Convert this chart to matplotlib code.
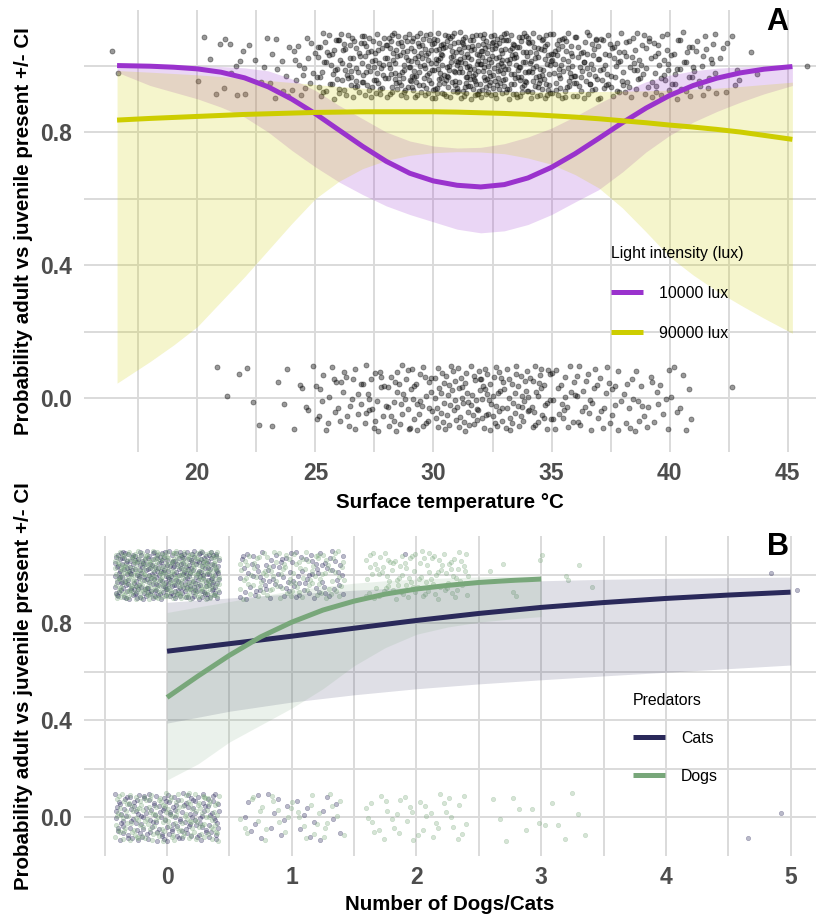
import numpy as np
import matplotlib
matplotlib.use('Agg')
import matplotlib.pyplot as plt
from matplotlib.lines import Line2D

plt.rcParams['font.family'] = ['Liberation Sans', 'DejaVu Sans']

# ---- panel A: surface temperature ----
# observations per 1 degC bin (bin start), adult (1) and juvenile (0)
temp_bins = list(range(16, 46))
adult_counts = [2, 0, 0, 0, 5, 8, 6, 10, 16, 30, 38, 42, 50, 55, 62,
                68, 66, 60, 55, 45, 40, 32, 28, 26, 22, 18, 8, 2, 0, 1]
juv_counts = [0, 0, 0, 0, 1, 2, 3, 4, 6, 14, 16, 20, 22, 24, 28,
              30, 30, 28, 26, 20, 18, 15, 14, 12, 8, 0, 1, 0, 0, 0]

# fitted probability +/- CI
curve_t = [16.6, 18, 19, 20, 21, 22, 23, 24, 25, 26, 27, 28, 29, 30, 31,
           32, 33, 34, 35, 36, 37, 38, 39, 40, 41, 42, 43, 44, 45.2]
lux10k_fit = [1.0, 0.998, 0.995, 0.99, 0.98, 0.963, 0.936, 0.899, 0.855, 0.806,
              0.757, 0.712, 0.676, 0.653, 0.64, 0.635, 0.642, 0.662, 0.694,
              0.735, 0.781, 0.828, 0.872, 0.91, 0.94, 0.962, 0.978, 0.989, 0.997]
lux10k_hi = [1.0, 1.0, 1.0, 0.999, 0.997, 0.993, 0.984, 0.96, 0.925, 0.88,
             0.84, 0.80, 0.773, 0.758, 0.752, 0.754, 0.765, 0.785, 0.812,
             0.847, 0.886, 0.922, 0.951, 0.971, 0.984, 0.992, 0.996, 0.998, 0.999]
lux10k_lo = [0.98, 0.94, 0.92, 0.90, 0.875, 0.845, 0.80, 0.745, 0.695, 0.65,
             0.612, 0.578, 0.552, 0.53, 0.508, 0.497, 0.503, 0.522, 0.552,
             0.59, 0.627, 0.68, 0.74, 0.79, 0.83, 0.862, 0.89, 0.915, 0.94]
lux90k_fit = [0.836, 0.841, 0.844, 0.847, 0.85, 0.853, 0.855, 0.857, 0.859, 0.86,
              0.861, 0.861, 0.861, 0.861, 0.86, 0.858, 0.856, 0.853, 0.849,
              0.845, 0.84, 0.834, 0.828, 0.821, 0.815, 0.808, 0.80, 0.79, 0.778]
lux90k_hi = [0.985, 0.98, 0.976, 0.972, 0.967, 0.961, 0.955, 0.949, 0.943, 0.937,
             0.932, 0.928, 0.925, 0.923, 0.922, 0.921, 0.921, 0.921, 0.921,
             0.922, 0.922, 0.923, 0.924, 0.926, 0.929, 0.932, 0.937, 0.943, 0.95]
lux90k_lo = [0.045, 0.11, 0.16, 0.215, 0.29, 0.365, 0.445, 0.525, 0.60, 0.652,
             0.69, 0.715, 0.73, 0.738, 0.741, 0.74, 0.735, 0.722, 0.703,
             0.672, 0.632, 0.572, 0.50, 0.425, 0.37, 0.322, 0.28, 0.24, 0.195]

# ---- panel B: number of predators ----
pred_n = [0, 1, 2, 3, 4, 5]
cats_adult = [300, 90, 1, 0, 0, 2]
cats_juv = [150, 25, 0, 0, 0, 3]
dogs_adult = [300, 100, 100, 10, 0, 0]
dogs_juv = [150, 35, 40, 15, 0, 0]

cats_x = [0, 0.5, 1, 1.5, 2, 2.5, 3, 3.5, 4, 4.5, 5]
cats_fit = [0.685, 0.716, 0.747, 0.78, 0.812, 0.841, 0.866, 0.886, 0.903, 0.917, 0.929]
cats_hi = [0.887, 0.905, 0.922, 0.937, 0.95, 0.964, 0.976, 0.982, 0.986, 0.989, 0.991]
cats_lo = [0.388, 0.437, 0.475, 0.505, 0.53, 0.55, 0.567, 0.583, 0.598, 0.613, 0.628]

dogs_x = [0, 0.25, 0.5, 0.75, 1, 1.25, 1.5, 1.75, 2, 2.25, 2.5, 2.75, 3]
dogs_fit = [0.494, 0.583, 0.668, 0.744, 0.805, 0.855, 0.892, 0.921, 0.942,
            0.957, 0.969, 0.977, 0.983]
dogs_hi = [0.845, 0.868, 0.89, 0.913, 0.935, 0.952, 0.966, 0.976, 0.983,
           0.988, 0.992, 0.995, 0.997]
dogs_lo = [0.153, 0.22, 0.31, 0.38, 0.45, 0.53, 0.625, 0.70, 0.755,
           0.785, 0.805, 0.818, 0.828]

PURPLE = '#9a32cd'
YELLOW = '#cdcd00'
NAVY = '#2a295a'
GREEN = '#78a77a'
TICK_GREY = '#4d4d4d'
GRID = '#dadada'


def radical_inverse(k, base):
    out = np.zeros(len(k))
    f = 1.0 / base
    k = k.copy()
    while k.any():
        out += f * (k % base)
        k //= base
        f /= base
    return out


def jitter_xy(n, start):
    # evenly spread jitter in the unit square (Halton 2,3), stands in for geom_jitter
    k = np.arange(start, start + n)
    return radical_inverse(k, 2), radical_inverse(k, 3)


def style_axes(ax, major, minor):
    for s in ax.spines.values():
        s.set_visible(False)
    ax.set_xticks(major)
    ax.set_xticks(minor, minor=True)
    ax.set_yticks([0.0, 0.4, 0.8])
    ax.set_yticks([0.2, 0.6, 1.0], minor=True)
    ax.grid(True, which='both', color=GRID, lw=1.4)
    ax.set_axisbelow(True)
    ax.tick_params(which='both', length=0)
    ax.tick_params(axis='x', pad=7.5)
    ax.tick_params(axis='y', pad=8.5)
    for lab in ax.get_xticklabels() + ax.get_yticklabels():
        lab.set_fontsize(16.5)
        lab.set_fontweight('bold')
        lab.set_color(TICK_GREY)


fig = plt.figure(figsize=(8.16, 9.15), dpi=100)

# ----- A -----
axA = fig.add_axes([84 / 816, 1 - 452 / 915, 732 / 816, 442 / 915])
xs, ys = [], []
k = 37
for t, n_top, n_bot in zip(temp_bins, adult_counts, juv_counts):
    for outcome, n in ((1, n_top), (0, n_bot)):
        u, v = jitter_xy(n, k)
        k += n + 7
        xs.append(t + u)
        ys.append(outcome + (v - 0.5) * 0.2)
axA.scatter(np.concatenate(xs), np.concatenate(ys), s=13, color='black',
            alpha=0.4, linewidths=0.6, zorder=2)

axA.fill_between(curve_t, lux10k_lo, lux10k_hi, color=PURPLE, alpha=0.2, lw=0, zorder=3)
axA.fill_between(curve_t, lux90k_lo, lux90k_hi, color=YELLOW, alpha=0.2, lw=0, zorder=3)
axA.plot(curve_t, lux10k_fit, color=PURPLE, lw=3.6, zorder=4, solid_capstyle='butt')
axA.plot(curve_t, lux90k_fit, color=YELLOW, lw=3.6, zorder=4, solid_capstyle='butt')

axA.set_xlim(15.2, 46.2)
axA.set_ylim(-0.162, 1.167)
style_axes(axA, [20, 25, 30, 35, 40, 45], [17.5, 22.5, 27.5, 32.5, 37.5, 42.5])
axA.set_xlabel('Surface temperature °C', fontsize=14.8, fontweight='bold')
axA.set_ylabel('Probability adult vs juvenile present +/- CI', fontsize=14.8,
               fontweight='bold')
axA.xaxis.set_label_coords(0.5, -0.093)
axA.yaxis.set_label_coords(-0.07, 0.5)
axA.text(0.947, 0.973, 'A', transform=axA.transAxes, fontsize=22,
         fontweight='bold', ha='center', va='center')

handlesA = [Line2D([], [], color=PURPLE, lw=3.6, solid_capstyle='butt'),
            Line2D([], [], color=YELLOW, lw=3.6, solid_capstyle='butt')]
axA.legend(handlesA, ['10000 lux', '90000 lux'], title='Light intensity (lux)',
           loc='upper left', bbox_to_anchor=(0.709, 0.484), frameon=False,
           fontsize=11.4, title_fontsize=11.4, borderpad=0, handlelength=2.0,
           handletextpad=1.05, labelspacing=1.58, alignment='left')

# ----- B -----
axB = fig.add_axes([84 / 816, 1 - 856 / 915, 732 / 816, 320 / 915])
k = 101
for counts_top, counts_bot, col, a in ((cats_adult, cats_juv, NAVY, 0.32),
                                       (dogs_adult, dogs_juv, GREEN, 0.3)):
    bx, by = [], []
    for n_pred, n_top, n_bot in zip(pred_n, counts_top, counts_bot):
        for outcome, n in ((1, n_top), (0, n_bot)):
            u, v = jitter_xy(n, k)
            k += n + 11
            bx.append(n_pred + (u - 0.5) * 0.84)
            by.append(outcome + (v - 0.5) * 0.2)
    axB.scatter(np.concatenate(bx), np.concatenate(by), s=10, color=col,
                alpha=a, linewidths=0.5, zorder=2)

axB.fill_between(cats_x, cats_lo, cats_hi, color=NAVY, alpha=0.15, lw=0, zorder=3)
axB.fill_between(dogs_x, dogs_lo, dogs_hi, color=GREEN, alpha=0.15, lw=0, zorder=3)
axB.plot(cats_x, cats_fit, color=NAVY, lw=3.6, zorder=4, solid_capstyle='butt')
axB.plot(dogs_x, dogs_fit, color=GREEN, lw=3.6, zorder=4, solid_capstyle='butt')

axB.set_xlim(-0.666, 5.204)
axB.set_ylim(-0.161, 1.161)
style_axes(axB, [0, 1, 2, 3, 4, 5], [-0.5, 0.5, 1.5, 2.5, 3.5, 4.5])
axB.set_xlabel('Number of Dogs/Cats', fontsize=14.8, fontweight='bold')
axB.set_ylabel('Probability adult vs juvenile present +/- CI', fontsize=14.8,
               fontweight='bold')
axB.xaxis.set_label_coords(0.5, -0.122)
axB.yaxis.set_label_coords(-0.07, 0.53)
axB.text(0.948, 0.966, 'B', transform=axB.transAxes, fontsize=22,
         fontweight='bold', ha='center', va='center')

handlesB = [Line2D([], [], color=NAVY, lw=3.6, solid_capstyle='butt'),
            Line2D([], [], color=GREEN, lw=3.6, solid_capstyle='butt')]
axB.legend(handlesB, ['Cats', 'Dogs'], title='Predators',
           loc='upper left', bbox_to_anchor=(0.739, 0.534), frameon=False,
           fontsize=11.4, title_fontsize=11.4, borderpad=0, handlelength=2.0,
           handletextpad=1.05, labelspacing=1.45, alignment='left')

fig.savefig('out.png', dpi=100, facecolor='white')
